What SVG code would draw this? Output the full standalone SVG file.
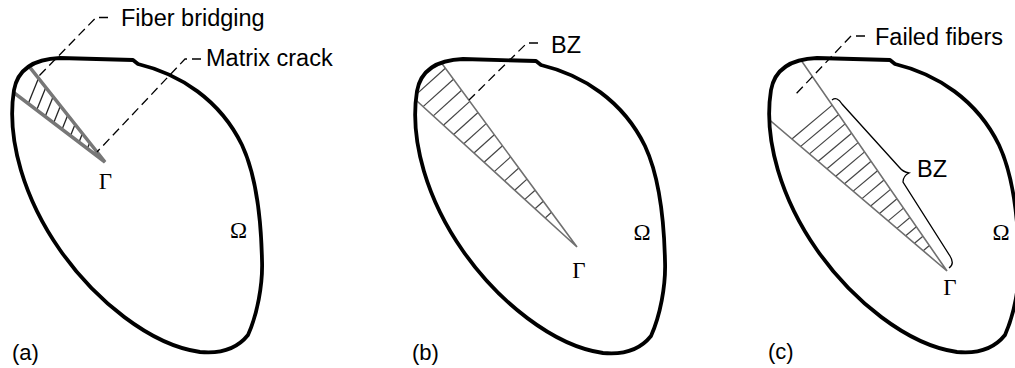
<svg xmlns="http://www.w3.org/2000/svg" xmlns:xlink="http://www.w3.org/1999/xlink" width="1015" height="368" viewBox="0 0 1015 368">
<style>
.outline{fill:none;stroke:#000;stroke-width:3.8;stroke-linejoin:round}
.edgeA{stroke:#777;stroke-width:3.5;fill:none;stroke-linecap:round}
.edge{stroke:#707070;stroke-width:1.6;fill:none}
.hatch{stroke:#444;stroke-width:1.2}
.hatchA{stroke:#222;stroke-width:1.3}
.lead{fill:none;stroke:#000;stroke-width:1.3;stroke-dasharray:9 5}
.brace{fill:none;stroke:#000;stroke-width:1.3}
.lbl{font-family:"Liberation Sans",Arial,sans-serif;font-size:23.5px;fill:#000}
.tag{font-family:"Liberation Sans",Arial,sans-serif;font-size:22px;fill:#000}
.sym{font-family:"Liberation Serif","Times New Roman",serif;font-size:23px;fill:#000;text-anchor:middle}
</style>
<defs>
<path id="blob" d="M 14,90 C 18,68 35,59 60,58 L 133,60 L 138,64 C 180,74 220,100 242,145 C 256,175 261,215 262,260 C 263,285 257,315 248,335 C 236,350 220,354 200,352 C 150,345 95,300 60,250 C 25,200 6,140 14,90 Z"/>
<clipPath id="clipA"><use xlink:href="#blob"/></clipPath>
<clipPath id="clipB"><use xlink:href="#blob" transform="translate(403,1)"/></clipPath>
<clipPath id="clipC"><use xlink:href="#blob" transform="translate(757,0)"/></clipPath>
</defs>
<rect width="1015" height="368" fill="#fff"/>

<g id="panel-a">
<g clip-path="url(#clipA)">
<g class="hatchA">
<line x1="87.4" y1="148.6" x2="89.7" y2="142.8"/>
<line x1="79.0" y1="142.2" x2="82.4" y2="133.6"/>
<line x1="70.5" y1="135.7" x2="75.1" y2="124.3"/>
<line x1="62.1" y1="129.3" x2="67.8" y2="115.1"/>
<line x1="53.6" y1="122.9" x2="60.4" y2="105.9"/>
<line x1="45.2" y1="116.4" x2="53.1" y2="96.7"/>
<line x1="36.7" y1="110.0" x2="45.8" y2="87.4"/>
<line x1="28.3" y1="103.6" x2="38.5" y2="78.2"/>
</g>
<path class="edgeA" d="M 24.7,60.8 L 105,162 L 8.2,88.3"/>
</g>
<use xlink:href="#blob" class="outline"/>
<text class="sym" x="105.5" y="189">Γ</text>
<text class="sym" x="238.5" y="238">Ω</text>
<text class="tag" x="12" y="360">(a)</text>
</g>

<g id="panel-b">
<g clip-path="url(#clipB)">
<g class="hatch">
<line x1="545.2" y1="218.0" x2="551.5" y2="212.3"/>
<line x1="535.0" y1="208.7" x2="543.3" y2="201.2"/>
<line x1="524.8" y1="199.4" x2="535.1" y2="190.2"/>
<line x1="514.7" y1="190.2" x2="527.0" y2="179.1"/>
<line x1="504.5" y1="180.9" x2="518.8" y2="168.0"/>
<line x1="494.3" y1="171.6" x2="510.6" y2="156.9"/>
<line x1="484.1" y1="162.3" x2="502.5" y2="145.8"/>
<line x1="474.0" y1="153.0" x2="494.3" y2="134.7"/>
<line x1="463.8" y1="143.8" x2="486.1" y2="123.6"/>
<line x1="453.6" y1="134.5" x2="478.0" y2="112.5"/>
<line x1="443.4" y1="125.2" x2="469.8" y2="101.4"/>
<line x1="433.3" y1="115.9" x2="461.6" y2="90.3"/>
<line x1="423.1" y1="106.6" x2="453.5" y2="79.2"/>
<line x1="412.9" y1="97.4" x2="445.3" y2="68.2"/>
<line x1="402.7" y1="88.1" x2="437.2" y2="57.1"/>
</g>
<path class="edge" d="M 429.6,46.8 L 577,247 L 402.1,87.5"/>
</g>
<use xlink:href="#blob" class="outline" transform="translate(403,1)"/>
<text class="sym" x="579" y="278">Γ</text>
<text class="sym" x="642" y="240">Ω</text>
<text class="tag" x="412" y="360">(b)</text>
</g>

<g id="panel-c">
<g clip-path="url(#clipC)">
<g class="hatch">
<line x1="923.2" y1="250.7" x2="929.4" y2="245.5"/>
<line x1="914.5" y1="243.3" x2="922.9" y2="236.2"/>
<line x1="905.7" y1="235.8" x2="916.4" y2="226.8"/>
<line x1="897.0" y1="228.4" x2="909.9" y2="217.5"/>
<line x1="888.2" y1="220.9" x2="903.5" y2="208.1"/>
<line x1="879.5" y1="213.5" x2="897.0" y2="198.7"/>
<line x1="870.7" y1="206.0" x2="890.5" y2="189.4"/>
<line x1="862.0" y1="198.6" x2="884.0" y2="180.0"/>
<line x1="853.2" y1="191.1" x2="877.5" y2="170.7"/>
<line x1="844.5" y1="183.7" x2="871.1" y2="161.3"/>
<line x1="835.7" y1="176.2" x2="864.6" y2="151.9"/>
<line x1="827.0" y1="168.8" x2="858.1" y2="142.6"/>
<line x1="818.2" y1="161.3" x2="851.6" y2="133.2"/>
<line x1="809.5" y1="153.9" x2="845.1" y2="123.9"/>
<line x1="800.7" y1="146.4" x2="838.7" y2="114.5"/>
<line x1="791.9" y1="139.0" x2="832.2" y2="105.1"/>
</g>
<path class="edge" d="M 795.8,52.6 L 947,271 L 763.3,114.6"/>
</g>
<use xlink:href="#blob" class="outline" transform="translate(757,0)"/>
<path class="brace" d="M 832,100 Q 837,96 842,104 L 899,167 Q 903,172 909,173 Q 903,176 903,182 L 950,256 Q 955,264 949,268"/>
<text class="lbl" x="917" y="177">BZ</text>
<text class="sym" x="950" y="295">Γ</text>
<text class="sym" x="1001" y="240">Ω</text>
<text class="tag" x="768" y="359">(c)</text>
</g>

<g id="connectors">
<path class="lead" d="M 108,17.5 L 96,17.5 L 38,77"/>
<path class="lead" d="M 201,59 L 185,59 L 97,152"/>
<path class="lead" d="M 538,43 L 527,43 L 469,100"/>
<path class="lead" d="M 865,36 L 851,36 L 795,95"/>
</g>

<g id="labels">
<text class="lbl" x="121" y="26">Fiber bridging</text>
<text class="lbl" x="206" y="66">Matrix crack</text>
<text class="lbl" x="551" y="53">BZ</text>
<text class="lbl" x="875" y="45">Failed fibers</text>
</g>
</svg>
